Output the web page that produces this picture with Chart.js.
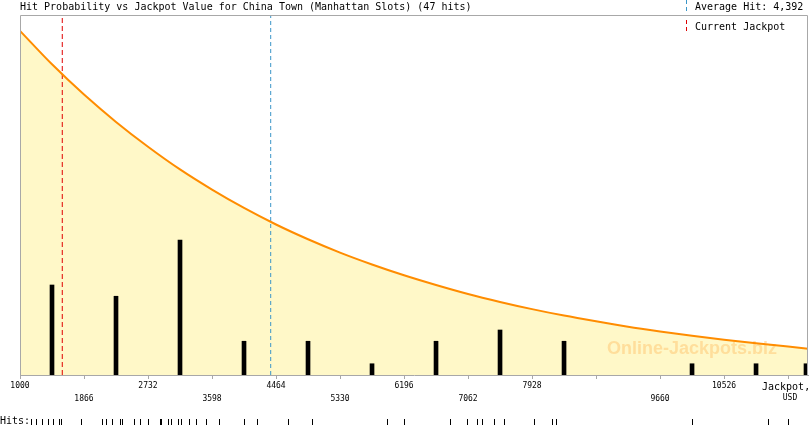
<!DOCTYPE html>
<html lang="en">
<head>
  <meta charset="UTF-8" />
  <title>Hit Probability vs Jackpot Value</title>
  <script src="https://cdn.jsdelivr.net/npm/chart.js"></script>
  <style>
    body { margin: 0; background: #fff; }
    canvas { display: block; }
  </style>
</head>
<body>
  <canvas id="grafico" width="810" height="425"></canvas>

  <script>
    // --- data ---
    const chartTitle = 'Hit Probability vs Jackpot Value for China Town (Manhattan Slots) (47 hits)';
    const averageHit = 4392;
    const currentJackpot = 1572;
    const xMin = 1000;
    const xMax = 11662;

    // x axis ticks, two staggered label rows
    const tickValues = [1000, 1866, 2732, 3598, 4464, 5330, 6196, 7062, 7928, 8794, 9660, 10526, 11392];
    const tickRow1 = ['1000', '', '2732', '', '4464', '', '6196', '', '7928', '', '', '10526', ''];
    const tickRow2 = ['', '1866', '', '3598', '', '5330', '', '7062', '', '', '9660', '', ''];

    // probability curve (% of plot height)
    const curveX = [1000, 1433, 1866, 2299, 2732, 3165, 3598, 4031, 4464, 4897, 5330, 5763, 6196,
                    6629, 7062, 7495, 7928, 8361, 8794, 9227, 9660, 10093, 10526, 10959, 11392, 11662];
    const curveY = [95.6, 86.3, 77.9, 70.3, 63.4, 57.1, 51.5, 46.4, 41.8, 37.7, 34.0, 30.7, 27.7,
                    25.0, 22.5, 20.3, 18.3, 16.5, 14.9, 13.4, 12.1, 10.9, 9.8, 8.8, 7.9, 7.3];

    // hits per bin
    const binX = [1433, 2299, 3165, 4031, 4897, 5763, 6629, 7495, 8361, 10093, 10959, 11635];
    const binHits = [8, 7, 12, 3, 3, 1, 3, 4, 3, 1, 1, 1];

    // individual hits (jackpot value of each hit)
    const hits = [1145, 1212, 1294, 1383, 1451, 1524, 1556, 1822,
                  2105, 2164, 2241, 2353, 2380, 2547, 2624,
                  2732, 2894, 2894, 2894, 2912, 3005, 3038, 3139, 3185, 3284, 3379, 3513,
                  3693, 4031, 4207,
                  4626, 4951, 4951,
                  5965,
                  6200, 6818, 7050,
                  7183, 7251, 7413, 7549,
                  7955, 8199, 8253,
                  10093, 11121, 11392];

    const grisEje = '#A8A8A8';
    const mono = '"DejaVu Sans Mono", "Liberation Mono", monospace';

    const decoracion = {
      id: 'decoracion',
      beforeDatasetsDraw(chart) {
        // watermark, above the fill, under the marks
        const { ctx } = chart;
        ctx.save();
        ctx.font = 'bold 18px "Liberation Sans", Arial, sans-serif';
        ctx.fillStyle = 'rgba(255, 190, 100, 0.45)';
        ctx.textBaseline = 'middle';
        ctx.fillText('Online-Jackpots.biz', 607, 349);
        ctx.restore();
      },
      afterDraw(chart) {
        const { ctx, chartArea: a } = chart;
        const x = chart.scales.x;
        ctx.save();

        // frame
        ctx.strokeStyle = grisEje;
        ctx.lineWidth = 1;
        ctx.beginPath();
        ctx.moveTo(a.left + 0.5, a.bottom);
        ctx.lineTo(a.left + 0.5, a.top + 0.5);
        ctx.lineTo(a.right - 0.5, a.top + 0.5);
        ctx.lineTo(a.right - 0.5, a.bottom);
        ctx.stroke();

        // title
        ctx.fillStyle = '#000';
        ctx.font = '10px ' + mono;
        ctx.textBaseline = 'middle';
        ctx.fillText(chartTitle, 20, 7);

        // legend
        ctx.fillText('Average Hit: ' + averageHit.toLocaleString('en-US'), 695, 7);
        ctx.fillText('Current Jackpot', 695, 27);
        ctx.lineWidth = 1;
        ctx.setLineDash([4, 3]);
        ctx.strokeStyle = '#3A96C8';
        ctx.beginPath(); ctx.moveTo(686.5, 0); ctx.lineTo(686.5, 13); ctx.stroke();
        ctx.strokeStyle = '#DD0000';
        ctx.beginPath(); ctx.moveTo(686.5, 20); ctx.lineTo(686.5, 34); ctx.stroke();
        ctx.setLineDash([]);

        // axis title at the last tick
        ctx.fillStyle = '#000';
        ctx.font = '10px ' + mono;
        ctx.fillText('Jackpot,', 762, 387);
        ctx.font = '8px ' + mono;
        ctx.textAlign = 'center';
        ctx.fillText('USD', 790, 398);
        ctx.textAlign = 'left';

        // hits strip
        ctx.font = '10px ' + mono;
        ctx.fillText('Hits:', 0, 421);
        ctx.strokeStyle = '#000';
        ctx.beginPath();
        hits.forEach(v => {
          const px = Math.round(x.getPixelForValue(v)) + 0.5;
          ctx.moveTo(px, 419);
          ctx.lineTo(px, 426);
        });
        ctx.stroke();

        ctx.restore();
      }
    };

    new Chart(document.getElementById('grafico'), {
      type: 'bar',
      data: {
        datasets: [
          {
            type: 'line',
            data: curveX.map((v, i) => ({ x: v, y: curveY[i] })),
            borderColor: '#FF8C00',
            borderWidth: 2,
            backgroundColor: '#FFF8C8',
            fill: 'origin',
            cubicInterpolationMode: 'monotone',
            pointRadius: 0,
            yAxisID: 'y',
            order: 0
          },
          {
            type: 'line',
            data: [{ x: averageHit, y: 0 }, { x: averageHit, y: 100 }],
            borderColor: '#3A96C8',
            borderWidth: 1,
            borderDash: [4, 3],
            pointRadius: 0,
            fill: false,
            yAxisID: 'y',
            order: 1
          },
          {
            type: 'line',
            data: [{ x: currentJackpot, y: 0 }, { x: currentJackpot, y: 100 }],
            borderColor: '#E00000',
            borderWidth: 1,
            borderDash: [5, 3],
            pointRadius: 0,
            fill: false,
            yAxisID: 'y',
            order: 1
          },
          {
            type: 'bar',
            data: binX.map((v, i) => ({ x: v, y: binHits[i] })),
            backgroundColor: '#000',
            barThickness: 4,
            yAxisID: 'yh',
            order: 2
          }
        ]
      },
      options: {
        responsive: false,
        animation: false,
        devicePixelRatio: 1,
        layout: { padding: { left: 20, right: 2, top: 15, bottom: 0 } },
        plugins: {
          legend: { display: false },
          tooltip: { enabled: false },
          filler: { drawTime: 'beforeDatasetsDraw' }
        },
        scales: {
          x: {
            type: 'linear',
            offset: false,
            min: xMin,
            max: xMax,
            afterBuildTicks: s => { s.ticks = tickValues.map(v => ({ value: v })); },
            afterFit: s => { s.height = 50; },
            grid: { offset: false, drawOnChartArea: false, tickLength: 4, color: grisEje },
            border: { color: grisEje },
            ticks: {
              autoSkip: false,
              maxRotation: 0,
              padding: 1,
              color: '#000',
              font: { family: mono, size: 8, lineHeight: 1.55 },
              callback: (v, i) => [tickRow1[i] || '', tickRow2[i] || '']
            }
          },
          y: { display: false, min: 0, max: 100 },
          yh: { display: false, min: 0, max: 32 }
        }
      },
      plugins: [decoracion]
    });
  </script>
</body>
</html>
